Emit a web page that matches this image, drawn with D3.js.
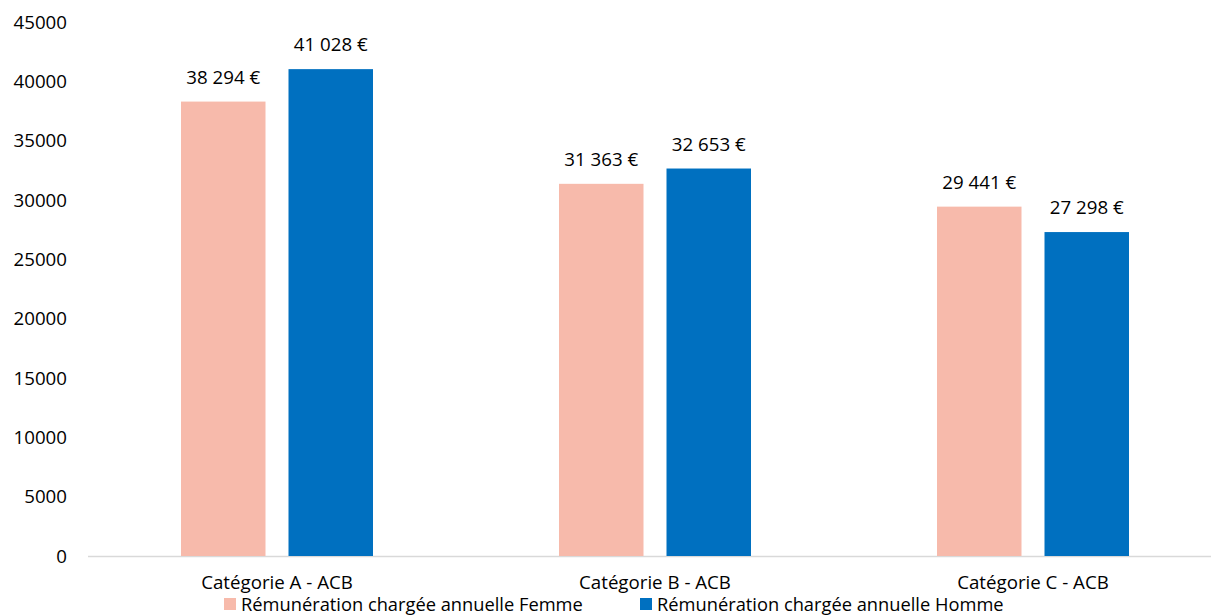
<!DOCTYPE html>
<html><head><meta charset="utf-8">
<script src="https://cdn.jsdelivr.net/npm/d3@7"></script>
<style>
html,body{margin:0;padding:0;background:#fff;}
svg{display:block;font-family:"Open Sans",sans-serif;}
</style></head>
<body>
<svg id="chart" width="1211" height="615"></svg>
<script>
const categories = ["Catégorie A - ACB", "Catégorie B - ACB", "Catégorie C - ACB"];
const seriesNames = ["Rémunération chargée annuelle Femme", "Rémunération chargée annuelle Homme"];
const femme = [38294, 31363, 29441];
const homme = [41028, 32653, 27298];
const yTicks = [0, 5000, 10000, 15000, 20000, 25000, 30000, 35000, 40000, 45000];
const colors = ["#F7BAAB", "#0070C0"];

const svg = d3.select("#chart");
const x = d3.scaleBand().domain(categories).range([88, 1222]).paddingInner(0).paddingOuter(0);
const y = d3.scaleLinear().domain([0, 45000]).range([556, 22]);
const x1 = d3.scaleBand().domain([0, 1]).range([93, 378 - 93]).paddingInner(23 / 192 * 2 / (1 + 23/192));

// y tick labels
svg.append("g").selectAll("text").data(yTicks).join("text")
  .attr("x", 67).attr("y", d => y(d)).attr("dy", "0.35em")
  .attr("text-anchor", "end").attr("font-size", 18.7).attr("fill", "#000")
  .text(d => d);

// axis line
svg.append("line").attr("x1", 88).attr("x2", 1222).attr("y1", y(0) + 0.5).attr("y2", y(0) + 0.5)
  .attr("stroke", "#D9D9D9").attr("stroke-width", 1.5);

const data = categories.map((c, i) => ({c, vals: [femme[i], homme[i]]}));
const groups = svg.append("g").selectAll("g").data(data).join("g")
  .attr("transform", d => `translate(${x(d.c)},0)`);
groups.selectAll("rect").data(d => d.vals.map((v, k) => ({v, k}))).join("rect")
  .attr("x", d => x1(d.k)).attr("width", x1.bandwidth())
  .attr("y", d => y(d.v)).attr("height", d => y(0) - y(d.v))
  .attr("fill", d => colors[d.k]);
const fmt = v => d3.format(",")(v).replace(/,/g, " ") + " €";
groups.selectAll("text").data(d => d.vals.map((v, k) => ({v, k}))).join("text")
  .attr("x", d => x1(d.k) + x1.bandwidth() / 2).attr("y", d => y(d.v) - 18)
  .attr("text-anchor", "middle").attr("font-size", 18.7).attr("fill", "#000")
  .text(d => fmt(d.v));

// category labels
svg.append("g").selectAll("text").data(categories).join("text")
  .attr("x", d => x(d) + x.bandwidth() / 2).attr("y", 589)
  .attr("text-anchor", "middle").attr("font-size", 18.7).attr("fill", "#000")
  .text(d => d);

// legend
const legX = [224, 640];
const leg = svg.append("g").selectAll("g").data(seriesNames).join("g")
  .attr("transform", (d, i) => `translate(${legX[i]},598)`);
leg.append("rect").attr("width", 12).attr("height", 12).attr("fill", (d, i) => colors[i]);
leg.append("text").attr("x", 17).attr("y", 13).attr("font-size", 18.3).attr("fill", "#000").text(d => d);
</script>
</body></html>
